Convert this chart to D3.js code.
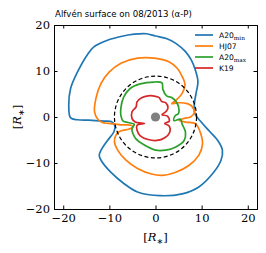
<!DOCTYPE html>
<html>
<head>
<meta charset="utf-8">
<script src="https://cdn.jsdelivr.net/npm/d3@7"></script>
<style>
  body { margin: 0; background: #fff; }
  .tick text { font-family: "DejaVu Serif", serif; font-size: 11.5px; }
</style>
</head>
<body>
<svg id="draw" width="266" height="253"></svg>
<script>
// contour points [x, y] in stellar radii
var a20min = [[-2.0,18.1],[0,17.6],[2.5,17.0],[4.4,16.0],[6.5,14.2],[7.8,12.3],[8.6,10.3],[9.2,7.7],
  [8.8,5.2],[8.4,2.6],[8.6,0.6],[10.0,-1.2],[11.8,-3.2],[13.5,-5.1],[14.5,-7.2],[14.2,-9.4],
  [12.4,-12.3],[9.4,-15.2],[5.8,-16.7],[1.0,-17.1],[-3.9,-16.3],[-6.8,-14.5],[-9.7,-12.0],
  [-11.8,-9.4],[-12.2,-8.3],[-11.8,-7.2],[-10.4,-5.1],[-9.0,-3.2],[-8.8,-1.9],[-9.6,-1.0],
  [-11.1,-0.9],[-14.5,-0.7],[-16.9,-0.6],[-18.4,-0.2],[-18.8,2.6],[-18.4,6.2],[-16.9,9.8],
  [-14.8,13.5],[-13.3,15.3],[-10.4,16.7],[-7.5,17.5],[-4.6,18.0]];

var hj07 = [[-0.2,12.8],[2.9,12.0],[4.7,10.6],[5.8,8.8],[6.4,7.0],[5.8,5.2],[4.4,3.6],[3.5,2.9],
  [5.0,3.1],[6.9,2.9],[8.0,2.2],[8.4,0.9],[7.6,0.0],[6.2,-0.3],[5.1,-0.7],[6.5,-1.1],[8.7,-1.5],
  [9.8,-3.6],[10.2,-5.8],[9.4,-8.3],[7.3,-10.5],[4.4,-12.0],[1.5,-12.7],[-0.9,-12.4],[-3.9,-11.2],
  [-6.4,-9.4],[-8.2,-7.2],[-8.9,-5.4],[-8.6,-4.0],[-7.9,-3.2],[-5.7,-2.6],[-4.9,-2.2],[-5.3,-1.8],
  [-7.5,-1.7],[-10.2,-1.4],[-11.5,-1.2],[-12.4,-0.6],[-13.2,1.0],[-12.9,4.1],[-11.8,7.3],
  [-10.0,9.8],[-7.5,11.7],[-3.9,12.8]];

var a20max = [[-0.4,7.6],[1.4,7.4],[1.6,6.0],[2.4,4.6],[3.6,4.2],[4.4,3.4],[5.0,2.2],[5.0,0.8],
  [4.2,0.2],[4.0,-0.8],[5.4,-0.5],[5.8,-1.6],[6.5,-3.3],[6.2,-5.1],[4.4,-6.5],[2.2,-7.2],[0,-7.2],
  [-2.6,-6.0],[-4.2,-4.8],[-4.9,-3.6],[-5.1,-2.5],[-4.6,-1.6],[-5.9,-1.2],[-7.0,-0.9],[-7.5,0.3],
  [-7.5,2.0],[-6.9,4.3],[-5.5,6.2],[-3.3,7.2]];

var k19 = [[0,4.5],[0.8,4.2],[1.3,3.4],[2.2,3.1],[2.7,2.0],[2.3,1.2],[1.4,0.5],[2.6,0.2],[3.0,-0.9],
  [2.0,-1.4],[3.0,-2.0],[3.1,-3.3],[2.0,-4.5],[0.3,-5.1],[-1.6,-4.9],[-3.3,-4.1],[-4.0,-2.9],
  [-4.0,-1.8],[-2.4,-1.4],[-4.4,-1.1],[-5.1,-0.3],[-5.1,1.1],[-4.2,2.2],[-4.0,3.3],[-3.0,4.2],[-1.6,4.6]];

var seriesNames = ["A20", "HJ07", "A20", "K19"];
var seriesSubs = ["min", "", "max", ""];
var seriesColors = ["#1f77b4", "#ff7f0e", "#2ca02c", "#d62728"];
var seriesData = [a20min, hj07, a20max, k19];

var circleRadius = 8.9;   // dashed reference circle
var starRadius = 1.0;     // grey star
var tickValues = [-20, -10, 0, 10, 20];

var svg = d3.select("#draw");

var xScale = d3.scaleLinear().domain([-22, 22]).range([54, 257]);
var yScale = d3.scaleLinear().domain([-20, 20]).range([209, 25]);

var line = d3.line()
  .x(function(d) { return xScale(d[0]); })
  .y(function(d) { return yScale(d[1]); })
  .curve(d3.curveCatmullRomClosed.alpha(0.5));

svg.selectAll(".contour")
  .data(seriesData)
  .enter().append("path")
  .attr("class", "contour")
  .attr("d", line)
  .attr("fill", "none")
  .attr("stroke", function(d, i) { return seriesColors[i]; })
  .attr("stroke-width", 1.7)
  .attr("stroke-linejoin", "round");

svg.append("ellipse")
  .attr("cx", xScale(0))
  .attr("cy", yScale(0))
  .attr("rx", xScale(circleRadius) - xScale(0))
  .attr("ry", yScale(0) - yScale(circleRadius))
  .attr("fill", "none")
  .attr("stroke", "black")
  .attr("stroke-width", 1.2)
  .attr("stroke-dasharray", "4,2.5");

svg.append("ellipse")
  .attr("cx", xScale(0))
  .attr("cy", yScale(0))
  .attr("rx", xScale(starRadius) - xScale(0))
  .attr("ry", yScale(0) - yScale(starRadius))
  .attr("fill", "#808080");

// axes, ticks pointing inward on all four sides
svg.append("g")
  .attr("transform", "translate(0," + yScale(-20) + ")")
  .call(d3.axisBottom(xScale).tickValues(tickValues).tickSize(-3.5).tickPadding(5)
    .tickFormat(function(d) { return d < 0 ? "\u2212" + (-d) : d; }));
svg.append("g")
  .attr("transform", "translate(0," + yScale(20) + ")")
  .call(d3.axisTop(xScale).tickValues(tickValues).tickSize(-3.5).tickFormat(""));
svg.append("g")
  .attr("transform", "translate(" + xScale(-22) + ",0)")
  .call(d3.axisLeft(yScale).tickValues(tickValues).tickSize(-3.5).tickPadding(4)
    .tickFormat(function(d) { return d < 0 ? "\u2212" + (-d) : d; }));
svg.append("g")
  .attr("transform", "translate(" + xScale(22) + ",0)")
  .call(d3.axisRight(yScale).tickValues(tickValues).tickSize(-3.5).tickFormat(""));

svg.selectAll(".domain").attr("stroke-width", 1);
svg.selectAll(".tick text").attr("fill", "#000");

// axis labels: [R_star]
var labelHtml = '[<tspan font-style="italic">R</tspan>' +
  '<tspan font-family="DejaVu Sans, sans-serif" font-size="8" dy="2.5">\u2217</tspan><tspan dy="-2.5">]</tspan>';

svg.append("text")
  .attr("x", xScale(0))
  .attr("y", 241)
  .attr("text-anchor", "middle")
  .attr("font-family", "DejaVu Serif, serif")
  .attr("font-size", 11.5)
  .html(labelHtml);

svg.append("text")
  .attr("transform", "translate(21," + yScale(0) + ") rotate(-90)")
  .attr("text-anchor", "middle")
  .attr("font-family", "DejaVu Serif, serif")
  .attr("font-size", 11.5)
  .html(labelHtml);

svg.append("text")
  .attr("x", 55)
  .attr("y", 17)
  .attr("font-family", "DejaVu Sans, sans-serif")
  .attr("font-size", 8.6)
  .text("Alfvén surface on 08/2013 (\u03b1-P)");

// legend
var legend = svg.selectAll(".legend")
  .data(seriesNames)
  .enter().append("g")
  .attr("class", "legend")
  .attr("transform", function(d, i) { return "translate(195," + (35 + i * 11) + ")"; });

legend.append("line")
  .attr("x1", 0).attr("x2", 18)
  .attr("stroke", function(d, i) { return seriesColors[i]; })
  .attr("stroke-width", 1.7);

legend.append("text")
  .attr("x", 24)
  .attr("y", 3)
  .attr("font-family", "DejaVu Sans, sans-serif")
  .attr("font-size", 7.6)
  .each(function(d, i) {
    var t = d3.select(this);
    t.append("tspan").text(d);
    if (seriesSubs[i]) {
      t.append("tspan")
        .attr("dy", 1.8)
        .attr("font-family", "DejaVu Serif, serif")
        .attr("font-size", 5.8)
        .text(seriesSubs[i]);
    }
  });
</script>
</body>
</html>
